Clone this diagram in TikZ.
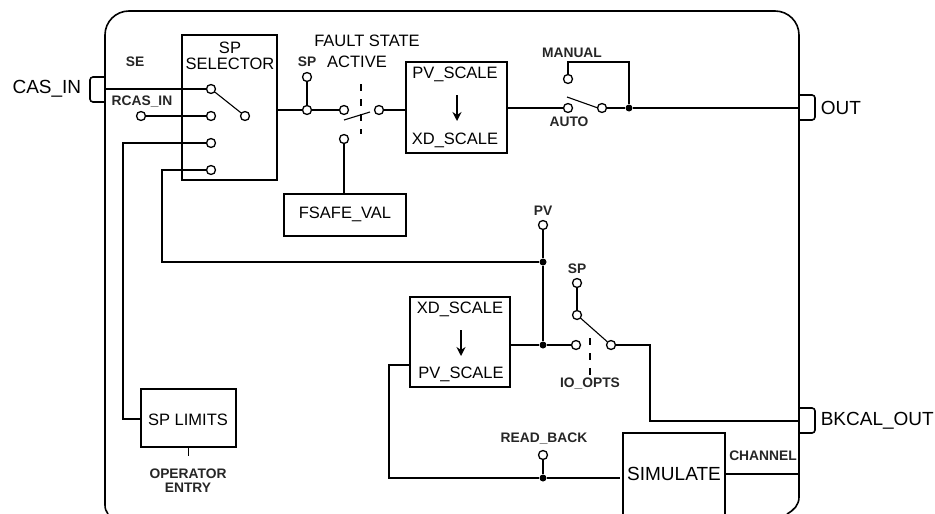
\documentclass[tikz,border=0pt]{standalone}
\usepackage{fontspec}
\setmainfont{Liberation Sans}
\usetikzlibrary{arrows.meta}
\tikzset{
  term/.style={circle, draw, fill=white, inner sep=0pt, minimum size=9pt, line width=1.3pt},
  joint/.style={circle, fill=black, inner sep=0pt, minimum size=7pt},
  block/.style={draw, inner sep=0pt, line width=1.5pt},
  lab/.style={inner sep=0pt, font=\fontsize{13.8}{13.8}\selectfont\bfseries, text=black!85},
  blab/.style={inner sep=0pt, font=\fontsize{16.5}{16.5}\selectfont},
  biglab/.style={inner sep=0pt, font=\fontsize{19}{19}\selectfont},
  blade/.style={line width=1.1pt},
  linkage/.style={line width=1.2pt, dash pattern=on 7pt off 8pt},
  flow/.style={-{Stealth[length=9pt, width=9pt]}, line width=1.5pt}
}
\begin{document}
\begin{tikzpicture}[x=1pt, y=-1pt, line width=1.6pt]
  \useasboundingbox (0,0) rectangle (935,514);
  % Outer frame
  \draw[rounded corners=24pt] (105,505) -- (105,11) -- (799,11) -- (799,497);
  \draw (105,505) .. controls (105,509) and (106,511) .. (108,514);
  \draw (799,497) .. controls (799,505) and (794,510) .. (787,514);
  % Port brackets
  \draw[rounded corners=3pt] (105,77) -- (90,77) -- (90,102) -- (105,102);
  \draw[rounded corners=3pt] (799,95) -- (815,95) -- (815,120) -- (799,120);
  \draw[rounded corners=3pt] (799,408) -- (815,408) -- (815,433) -- (799,433);
  \node[biglab, anchor=east] (casinlab) at (82,89) {CAS\_IN};
  \node[biglab, anchor=west] (outlab) at (820,108) {OUT};
  \node[biglab, anchor=west] (bkcallab) at (820,421) {BKCAL\_OUT};
  % Points on the frame
  \coordinate (casin) at (105,89);
  \coordinate (outp) at (799,108);
  \coordinate (bkout) at (799,421);
  \coordinate (chout) at (799,474);
  % Blocks
  \node[block, minimum width=95pt, minimum height=145pt] (spsel) at (229.5,107.5) {};
  \node[block, minimum width=122pt, minimum height=42pt] (fsafe) at (345,215) {};
  \node[block, minimum width=101pt, minimum height=91pt] (pvxd) at (456.5,107.5) {};
  \node[block, minimum width=100pt, minimum height=90pt] (xdpv) at (460,342) {};
  \node[block, minimum width=95pt, minimum height=58pt] (limits) at (188.5,418) {};
  % Simulate block runs off the page
  \draw (623,514) -- (623,433) -- (725,433) -- (725,514);
  \coordinate (simin) at (620,478);
  \coordinate (simout) at (725,474);
  % Block texts
  \node[lab] (selo) at (135,62) {SE};
  \node[blab] (sptxt) at (230,48) {SP};
  \node[blab] (seltxt) at (230,64) {SELECTOR};
  \node[blab] (fsafetxt) at (345,214) {FSAFE\_VAL};
  \node[blab] (pvtop) at (455,74) {PV\_SCALE};
  \node[blab] (xdbot) at (455,140) {XD\_SCALE};
  \node[blab] (xdtop) at (460,309) {XD\_SCALE};
  \node[blab] (pvbot) at (461,374) {PV\_SCALE};
  \node[blab] (limtxt) at (188,420) {SP LIMITS};
  \node[biglab] (simtxt) at (674,474) {SIMULATE};
  \node[blab] (faulttxt) at (367,41) {FAULT STATE};
  \node[blab] (activetxt) at (357,62) {ACTIVE};
  % Small labels
  \node[lab] (rcastxt) at (142,102) {RCAS\_IN};
  \node[lab] (sponetxt) at (307,62) {SP};
  \node[lab] (manualtxt) at (572,53) {MANUAL};
  \node[lab] (autotxt) at (569,122) {AUTO};
  \node[lab] (pvtxt) at (543,211) {PV};
  \node[lab] (sptwotxt) at (577,269) {SP};
  \node[lab] (iotxt) at (590,384) {IO\_OPTS};
  \node[lab] (readtxt) at (544,439) {READ\_BACK};
  \node[lab] (chantxt) at (763,456) {CHANNEL};
  \node[lab] (optxt) at (188,474) {OPERATOR};
  \node[lab] (entrytxt) at (188,488) {ENTRY};
  % Selector terminals
  \node[term] (selcas) at (211,89) {};
  \node[term] (selrcas) at (211,116) {};
  \node[term] (sellim) at (211,143) {};
  \node[term] (selpv) at (211,170) {};
  \node[term] (selout) at (245,116) {};
  \node[term] (rcas) at (141,116) {};
  % Fault state terminals
  \node[term] (spone) at (307,77) {};
  \node[term] (spjoin) at (307,110) {};
  \node[term] (fsin) at (344,110) {};
  \node[term] (fsout) at (379,110) {};
  \node[term] (fssafe) at (344,139) {};
  % Manual / auto terminals
  \node[term] (manual) at (568,79) {};
  \node[term] (autoin) at (568,108) {};
  \node[term] (autoout) at (602,108) {};
  \node[joint] (outjoin) at (629,108) {};
  % Readback terminals
  \node[term] (pv) at (543,225) {};
  \node[joint] (pvjoin) at (543,262) {};
  \node[joint] (xdjoin) at (543,345) {};
  \node[term] (sptwo) at (577,283) {};
  \node[term] (iosp) at (577,315) {};
  \node[term] (iopv) at (576,345) {};
  \node[term] (ioout) at (611,345) {};
  \node[term] (read) at (543,455) {};
  \node[joint] (readjoin) at (543,478) {};
  % Selector wiring
  \draw (casin) -- (selcas);
  \draw (rcas) -- (selrcas);
  \draw (sellim) -| (123,419) -- (limits.west |- 0,419);
  \draw (selpv) -| (162,262) -- (pvjoin);
  \draw[blade] (selcas) -- (selout);
  \draw (limits.south) -- (188.5,456);
  % Setpoint path
  \draw (spsel.east |- spjoin) -- (spjoin);
  \draw (spone) -- (spjoin);
  \draw (spjoin) -- (fsin);
  \draw (fsout) -- (pvxd.west |- fsout);
  \draw (fssafe) -- (fssafe |- fsafe.north);
  \draw[blade] (344,120) -- (370,112);
  \draw[linkage] (361,84) -- (361,134);
  \draw[flow] (457,95) -- (457,121);
  % Output path
  \draw (pvxd.east |- autoin) -- (autoin);
  \draw[blade] (567,97) -- (598,108);
  \draw (autoout) -- (outjoin) -- (outp);
  \draw (manual) -- (568,62) -| (outjoin);
  % Readback path
  \draw (pv) -- (pvjoin) -- (xdjoin);
  \draw (xdpv.east |- xdjoin) -- (xdjoin) -- (iopv);
  \draw (sptwo) -- (iosp);
  \draw[blade] (iosp) -- (ioout);
  \draw[linkage] (590,338) -- (590,375);
  \draw (ioout) -| (650,421) -- (bkout);
  \draw[flow] (461,330) -- (461,356);
  \draw (xdpv.west |- 0,365) -| (389,478) -- (readjoin) -- (simin);
  \draw (read) -- (readjoin);
  \draw (simout) -- (chout);
\end{tikzpicture}
\end{document}
